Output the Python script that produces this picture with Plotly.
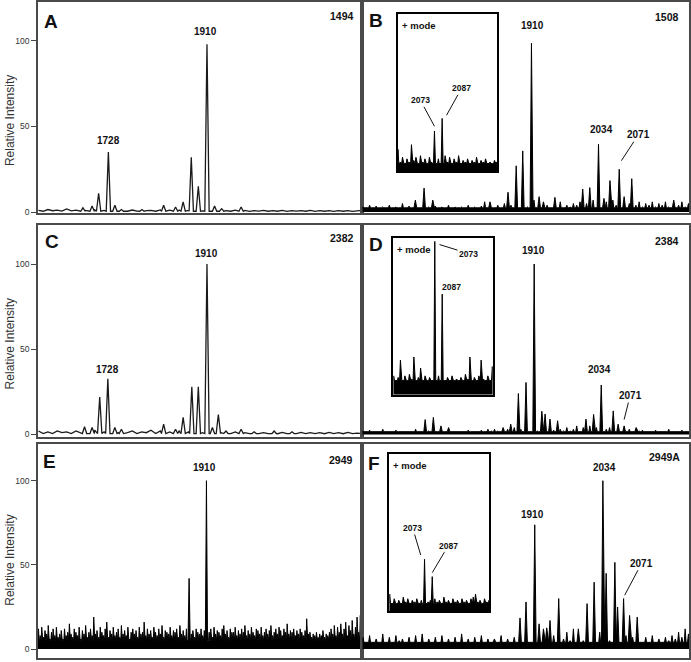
import numpy as np
import plotly.graph_objects as go

W, H = 691, 662
MZ_RANGE = [1598, 2197]
FONT = "Arial, Liberation Sans, sans-serif"

# ---------------- data ----------------
# Panel A (1494)
peaks_A_mz = [1681, 1698, 1710, 1728, 1740, 1752, 1790, 1830, 1852, 1866, 1881, 1894, 1910, 1924, 1937, 1973]
peaks_A_int = [2.5, 3.5, 11, 35, 4, 1.5, 1.5, 4, 3, 6, 32, 15, 98, 3.5, 2, 3]
noise_A = [1, 0.5, 1.5, 0.8, 1.2, 0.6, 1.8, 0.7, 1.2, 0.5, 1, 0.6, 1.3, 0.5, 1.0, 0.7, 1.5, 0.6, 1.1, 0.5,
           1.2, 0.6, 1.4, 0.8, 1.0, 0.5, 1.3, 0.6, 1.1, 0.7, 1.2, 0.5, 1.0, 0.6, 1.3, 0.7, 1.0, 0.5, 1.2, 0.6,
           0.9, 0.5, 1.1, 0.6, 1.0, 0.4, 0.9, 0.6, 1.0, 0.5, 0.8, 0.5, 1.0, 0.4, 0.9, 0.6, 0.8, 0.5, 1.0, 0.4,
           0.8, 0.5, 0.9, 0.4, 0.8, 0.5, 0.9, 0.4, 0.8, 1.0]

# Panel B (1508)
peaks_B_mz = [1695, 1711, 1727, 1832, 1865, 1880, 1892, 1908, 1922, 1930, 1951, 2002, 2015, 2031, 2041, 2052, 2069, 2078, 2092, 2169]
peaks_B_int = [7, 14, 7, 6, 11.6, 27, 35.7, 98.5, 9, 6, 8.6, 13.5, 14.3, 39.6, 8, 18.4, 25, 9, 19.5, 7]
noise_B = [3, 1.5, 4, 2, 3.5, 1.5, 3, 2, 4, 1.5, 3, 2, 5, 2, 3.5, 2, 3,
           2, 4, 1.5, 3, 2, 3.5, 1.5, 3, 2, 4, 1.5, 3, 2.5, 3, 1.5, 4, 2, 3, 2,
           3.5, 6, 2, 4, 2.5, 4, 2, 5, 3, 4,
           3, 5, 2, 4, 3, 5, 7, 3, 6, 2,
           4, 2, 5, 3, 6, 2, 4, 3, 5, 4,
           6, 3, 5, 4, 7, 3, 8, 4, 6, 3, 7, 4, 6, 5, 8,
           5, 9, 4, 6, 3, 5, 4, 6, 3, 5, 4, 6, 3, 5, 7, 4, 6, 3, 5]
inset_B_range = [2006, 2187]
inset_B_mz = [2073, 2087]
inset_B_int = [25.7, 33.7]
inset_noise_B = [14, 6, 9, 5, 8, 6, 17, 7, 9, 5, 10, 6, 8, 5, 9, 6, 7, 5, 8, 6,
                 7, 10, 6, 9, 5, 8, 6, 10, 5, 7, 6, 8, 5, 7, 6, 9, 5, 7, 6, 8,
                 5, 6, 5, 7, 6]

# Panel C (2382)
peaks_C_mz = [1684, 1698, 1712, 1727, 1740, 1752, 1830, 1852, 1866, 1882, 1894, 1910, 1920, 1931, 1945, 1973, 1997, 2034, 2067]
peaks_C_int = [4.5, 4, 22, 32.6, 4, 3, 6, 3, 10, 28, 28, 100, 4, 11.7, 2, 3, 1.5, 2, 1.5]
noise_C = [2, 0.5, 1.5, 0.5, 2, 1, 1.5, 0.5, 2, 1, 1.5, 0.5, 2.5, 1, 1.5, 0.5, 2, 1, 2.5, 1,
           2, 0.5, 1.5, 1, 2.5, 0.5, 2, 1, 1.5, 0.5, 2, 1, 1.5, 0.5, 2, 1, 1.5, 0.5, 2, 1,
           1, 0.5, 1.5, 0.5, 1, 0.5, 1.5, 0.5, 1, 0.5, 1, 0.4, 1.2, 0.5, 1, 0.4, 1.2, 0.5, 1, 0.5,
           1, 0.4, 1.2, 0.5, 1, 0.4, 1.2, 0.5, 0.8, 0.5]

# Panel D (2384)
peaks_D_mz = [1713, 1728, 1742, 1756, 1856, 1870, 1884, 1898, 1913, 1927, 1933, 1942, 1956, 2008, 2022, 2036, 2058, 2067, 2078, 2100]
peaks_D_int = [8.7, 10, 5, 4, 4, 6, 24, 30.5, 100, 13.6, 12, 9, 8, 9, 11.7, 29, 13.8, 6, 5, 4]
noise_D = [2, 1, 2.5, 1, 2, 1.5, 3, 1, 2, 1, 2.5, 1, 2, 1.5, 2, 1, 3, 1, 2, 1.5,
           2, 1, 2.5, 1, 2, 1, 3, 1.5, 2, 1, 2, 1.5, 2.5, 1, 2, 1, 2.5, 1.5, 3, 2,
           3, 2, 4, 1.5, 3, 2, 4, 2, 3, 2, 5, 2, 4, 2, 3, 1.5, 3, 2, 2.5, 1.5,
           3, 2, 4, 2, 3, 5, 2, 4, 3, 5, 3, 4, 2, 5, 3, 4, 2, 3, 2, 4,
           2, 3, 1.5, 3, 2, 2.5, 1, 2, 1.5, 2.5, 1, 2, 1.5, 3, 1, 2, 1.5, 2.5, 1, 2]
inset_D_range = [1995, 2182]
inset_D_mz = [2073, 2087]
inset_D_int = [97.5, 64]
inset_noise_D = [12, 8, 11, 22, 9, 12, 8, 13, 10, 24, 9, 11, 17, 8, 12, 9, 11, 8, 10, 9,
                 12, 8, 14, 9, 11, 8, 12, 9, 10, 8, 11, 9, 13, 10, 24, 9, 11, 8, 12, 22,
                 10, 9, 12, 8, 18]

# Panel E (2949)
peaks_E_mz = [1877, 1909]
peaks_E_int = [42, 100]
noise_E = [12, 8, 13, 7, 11, 9, 14, 6, 10, 12, 8, 13, 7, 9, 11, 6, 12, 8, 10, 15,
           9, 7, 12, 10, 8, 13, 6, 11, 9, 14, 7, 10, 12, 8, 19, 9, 11, 7, 13, 10,
           8, 12, 16, 7, 11, 9, 13, 8, 10, 12, 7, 14, 9, 11, 8, 13, 6, 10, 12, 9,
           11, 7, 13, 9, 10, 16, 8, 12, 9, 11, 7, 13, 10, 8, 12, 9, 14, 7, 11, 10,
           9, 13, 8, 11, 10, 12, 7, 14, 9, 11, 8, 12, 10, 13, 9, 11, 7, 12, 10, 9,
           12, 8, 11, 13, 9, 10, 12, 7, 13, 9, 11, 10, 8, 12, 14, 9, 11, 7, 12, 10,
           10, 13, 8, 11, 9, 12, 10, 14, 8, 11, 9, 13, 10, 8, 12, 11, 9, 13, 8, 10,
           12, 9, 11, 14, 8, 10, 12, 9, 13, 11, 8, 12, 10, 15, 9, 11, 10, 12, 8, 11,
           9, 12, 10, 8, 11, 18, 9, 10, 7, 9, 8, 10, 7, 9, 8, 11, 7, 9, 8, 10,
           12, 9, 14, 8, 13, 10, 15, 9, 12, 16, 8, 14, 11, 17, 9, 13, 19, 10, 20, 12]

# Panel F (2949A)
peaks_F_mz = [1840, 1887, 1898, 1914, 1922, 1930, 1936, 1942, 1958, 1994, 2010, 2023, 2039, 2045, 2061, 2066, 2077, 2088, 2102]
peaks_F_int = [6, 18.5, 28, 73.8, 15, 12, 12.6, 17, 30, 12, 27, 39.7, 100, 45, 51.5, 25, 30, 20, 19]
noise_F = [7, 3, 8, 4, 6, 3, 9, 4, 7, 3, 8, 5, 6, 3, 7, 4, 8, 3, 9, 4,
           6, 3, 7, 4, 8, 3, 6, 4, 7, 3, 9, 4, 6, 3, 7, 4, 8, 3, 6, 4,
           7, 3, 8, 4, 6, 3, 7, 4, 8, 5, 7, 4, 6, 3, 9, 4, 7, 3, 8, 5,
           9, 6, 10, 5, 12, 6, 10, 5, 9, 4, 8, 5, 10, 6, 11, 5, 9, 6, 10, 5,
           8, 4, 7, 3, 8, 4, 7, 3, 8, 4, 6, 3, 7, 5, 8, 6, 10, 7, 12, 9]
inset_F_range = [2009, 2191]
inset_F_mz = [2073, 2087]
inset_F_int = [33, 22]
inset_noise_F = [11, 5, 8, 4, 7, 5, 9, 6, 8, 5, 7, 6, 8, 5, 7, 4, 8, 6, 7, 5,
                 8, 6, 7, 5, 9, 6, 7, 5, 8, 6, 7, 5, 8, 6, 7, 5, 8, 9, 11, 6,
                 7, 5, 8, 6, 7]

panel_letters = ["A", "B", "C", "D", "E", "F"]
sample_ids = ["1494", "1508", "2382", "2384", "2949", "2949A"]


# ---------------- helpers ----------------
def spectrum(noise, lo, hi, mz, inten, hw, base, stick=None):
    """Polyline through noise samples + triangular peaks.
    If stick is given, each noise sample is drawn as a thin spike rising from `base`."""
    grid = np.linspace(lo, hi, len(noise))
    pts = []
    for g, v in zip(grid, noise):
        if min(abs(g - m) for m in mz) <= hw + (stick or 0):
            continue
        if stick:
            pts += [(g - stick, base), (g, max(v, base)), (g + stick, base)]
        else:
            pts.append((g, v))
    for m, h in zip(mz, inten):
        pts += [(m - hw, base), (m, h), (m + hw, base)]
    pts.sort()
    xs, ys = zip(*pts)
    return list(xs), list(ys)


def hpaper(x):
    return x / W


def vpaper(y):
    return 1 - y / H


def height_of(mzs, ints, m):
    return ints[mzs.index(m)]


fig = go.Figure()

LINE_FRAME = "#4a4a4a"
col_dom = [[hpaper(38), hpaper(363)], [hpaper(363), hpaper(690)]]
row_dom = [[vpaper(214), vpaper(1)], [vpaper(439), vpaper(225.7)], [0.0, vpaper(446.7)]]
row_rng = [[-0.75, 122.6], [-1.34, 122.9], [-5.3, 121.6]]

# noise, peak mz, peak int, half width, floor, filled, stick half-width
main = [
    (noise_A, peaks_A_mz, peaks_A_int, 4, 0.5, False, None),
    (noise_B, peaks_B_mz, peaks_B_int, 2.5, 2.5, True, 1.7),
    (noise_C, peaks_C_mz, peaks_C_int, 4, 0.5, False, None),
    (noise_D, peaks_D_mz, peaks_D_int, 2.5, 1.6, True, 1.7),
    (noise_E, peaks_E_mz, peaks_E_int, 2, 5.0, True, 1.1),
    (noise_F, peaks_F_mz, peaks_F_int, 2.5, 4.0, True, 1.7),
]

layout_axes = {}
for i, (nz, pm, pi, hw, base, filled, stick) in enumerate(main):
    k = i + 1
    xs, ys = spectrum(nz, MZ_RANGE[0] + 1, MZ_RANGE[1] - 1, pm, pi, hw, base, stick)
    tr = dict(x=xs, y=ys, mode="lines", xaxis=f"x{k}", yaxis=f"y{k}", hoverinfo="skip",
              showlegend=False)
    if filled:
        tr.update(line=dict(color="black", width=1), fill="tozeroy", fillcolor="black")
    else:
        tr.update(line=dict(color="#1a1a1a", width=1.3))
    fig.add_trace(go.Scatter(**tr))

    col = i % 2
    row = i // 2
    xa = dict(domain=col_dom[col], range=MZ_RANGE, showline=True, mirror=True, linecolor=LINE_FRAME,
              linewidth=1.5, showticklabels=False, ticks="", showgrid=False, zeroline=False,
              anchor=f"y{k}", fixedrange=True)
    ya = dict(domain=row_dom[row], range=row_rng[row], showline=True, mirror=True, linecolor=LINE_FRAME,
              linewidth=1.5, showgrid=False, zeroline=False, anchor=f"x{k}", fixedrange=True)
    if col == 0:
        ya.update(tickvals=[0, 50, 100], ticktext=["0", "50", "100"], ticks="outside", ticklen=5,
                  tickcolor="#444", tickwidth=1, tickfont=dict(size=8.5, color="#333", family=FONT))
    else:
        ya.update(showticklabels=False, ticks="")
    layout_axes[f"xaxis{k}"] = xa
    layout_axes[f"yaxis{k}"] = ya

# insets: axis number, noise, range, peaks mz, peaks int, box px x, box px y, floor
insets = [
    (7, inset_noise_B, inset_B_range, inset_B_mz, inset_B_int, [398.3, 497.7], [13.3, 171.7], 5),
    (8, inset_noise_D, inset_D_range, inset_D_mz, inset_D_int, [394, 493.3], [238.3, 396.7], 9),
    (9, inset_noise_F, inset_F_range, inset_F_mz, inset_F_int, [390, 490], [456, 615], 5),
]
for k, nz, rng, pm, pi, xd, yd, base in insets:
    xs, ys = spectrum(nz, rng[0] + 0.5, rng[1] - 0.5, pm, pi, 1.8, base, 1.5)
    fig.add_trace(go.Scatter(x=xs, y=ys, mode="lines", xaxis=f"x{k}", yaxis=f"y{k}",
                             line=dict(color="black", width=1), fill="tozeroy", fillcolor="black",
                             hoverinfo="skip", showlegend=False))
    layout_axes[f"xaxis{k}"] = dict(domain=[hpaper(xd[0]), hpaper(xd[1])], range=rng, showline=True,
                                    mirror=True, linecolor="black", linewidth=1.5, showticklabels=False,
                                    ticks="", showgrid=False, zeroline=False, anchor=f"y{k}", fixedrange=True)
    layout_axes[f"yaxis{k}"] = dict(domain=[vpaper(yd[1]), vpaper(yd[0])], range=[0, 100], showline=True,
                                    mirror=True, linecolor="black", linewidth=1.5, showticklabels=False,
                                    ticks="", showgrid=False, zeroline=False, anchor=f"x{k}", fixedrange=True)

ann = []


def txt(text, x, y, size, xanchor="center", bold=True, **kw):
    d = dict(text=f"<b>{text}</b>" if bold else text, x=x, y=y, xref="paper", yref="paper",
             xanchor=xanchor, yanchor="middle", showarrow=False,
             font=dict(size=size, color="#111", family=FONT))
    d.update(kw)
    ann.append(d)


# panel letters & sample ids
letter_pos = [(51, 20.7), (376.7, 20), (51.7, 242.3), (376.7, 245), (49.3, 464), (375, 466)]
id_pos = [(357, 15), (682, 15.7), (357, 238.3), (682, 241.7), (355.5, 462.3), (683, 459.3)]
for L, (lx, ly), sid, (ix, iy) in zip(panel_letters, letter_pos, sample_ids, id_pos):
    txt(L, hpaper(lx), vpaper(ly), 19)
    txt(sid, hpaper(ix), vpaper(iy), 10.5, xanchor="right")

# + mode
for (mx, my) in [(401, 24.3), (396, 250), (391.5, 467.7)]:
    txt("+ mode", hpaper(mx), vpaper(my), 9.5, xanchor="left")

# y titles
for yc in [120, 345, 563]:
    txt("Relative Intensity", hpaper(10), vpaper(yc), 12, bold=False, textangle=-90)
for a in ann[-3:]:
    a["font"]["color"] = "#333"


def peak_label(text, k, mzs, ints, m, yshift, xshift=0, size=10):
    ann.append(dict(text=f"<b>{text}</b>", x=m, y=height_of(mzs, ints, m), xref=f"x{k}", yref=f"y{k}",
                    xanchor="center", yanchor="bottom", yshift=yshift, xshift=xshift, showarrow=False,
                    font=dict(size=size, color="#111", family=FONT)))


def arrow_label(text, k, mzs, ints, m, dmz, dint, ax, ay, size=10):
    ann.append(dict(text=f"<b>{text}</b>", x=m + dmz, y=height_of(mzs, ints, m) + dint,
                    xref=f"x{k}", yref=f"y{k}", showarrow=True, ax=ax, ay=ay, arrowhead=0,
                    arrowwidth=1, arrowcolor="#111", standoff=0,
                    font=dict(size=size, color="#111", family=FONT)))


peak_label("1910", 1, peaks_A_mz, peaks_A_int, 1910, 5, -1)
peak_label("1728", 1, peaks_A_mz, peaks_A_int, 1728, 4)
peak_label("1910", 2, peaks_B_mz, peaks_B_int, 1908, 10, 1)
peak_label("2034", 2, peaks_B_mz, peaks_B_int, 2031, 7, 3)
arrow_label("2071", 2, peaks_B_mz, peaks_B_int, 2069, 4, 5, 17, -26)
peak_label("1910", 3, peaks_C_mz, peaks_C_int, 1910, 3)
peak_label("1728", 3, peaks_C_mz, peaks_C_int, 1727, 2)
peak_label("1910", 4, peaks_D_mz, peaks_D_int, 1913, 6, -1)
peak_label("2034", 4, peaks_D_mz, peaks_D_int, 2036, 8, -2)
arrow_label("2071", 4, peaks_D_mz, peaks_D_int, 2078, 0, 3.7, 6, -24)
peak_label("1910", 5, peaks_E_mz, peaks_E_int, 1909, 6, -2)
peak_label("1910", 6, peaks_F_mz, peaks_F_int, 1914, 3, -2)
peak_label("2034", 6, peaks_F_mz, peaks_F_int, 2039, 6, 2)
arrow_label("2071", 6, peaks_F_mz, peaks_F_int, 2077, 2, 2, 17, -32)

# inset labels
arrow_label("2073", 7, inset_B_mz, inset_B_int, 2073, 0, 3, -14, -26, size=8.5)
arrow_label("2087", 7, inset_B_mz, inset_B_int, 2087, 8, 2, 15, -27, size=8.5)
arrow_label("2073", 8, inset_D_mz, inset_D_int, 2073, 9, -2, 29, 9, size=8.5)
peak_label("2087", 8, inset_D_mz, inset_D_int, 2087, 0, 9, size=8.5)
arrow_label("2073", 9, inset_F_mz, inset_F_int, 2073, -7, 2.7, -8, -27, size=8.5)
arrow_label("2087", 9, inset_F_mz, inset_F_int, 2087, 0, 2.5, 16, -27, size=8.5)

fig.update_layout(width=W, height=H, autosize=False, margin=dict(l=0, r=0, t=0, b=0),
                  paper_bgcolor="white", plot_bgcolor="white", showlegend=False,
                  annotations=ann, font=dict(family=FONT), **layout_axes)

fig.write_html("out.html", config={"displayModeBar": False},
               post_script="document.body.style.margin='0';document.body.style.overflow='hidden';")
